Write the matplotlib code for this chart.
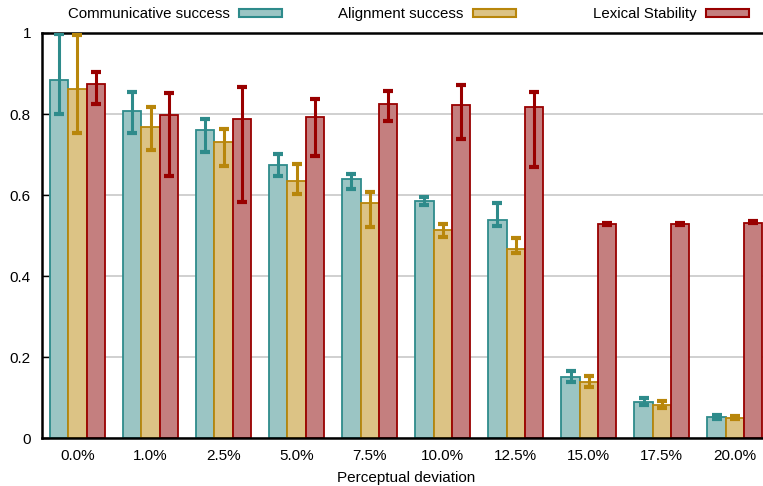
import matplotlib
matplotlib.use("Agg")
import matplotlib.pyplot as plt
import numpy as np
from matplotlib.patches import Patch

plt.rcParams['font.family'] = ['Liberation Sans', 'DejaVu Sans']

categories = ["0.0%", "1.0%", "2.5%", "5.0%", "7.5%", "10.0%", "12.5%", "15.0%", "17.5%", "20.0%"]
series_names = ["Communicative success", "Alignment success", "Lexical Stability"]

comm = [0.884, 0.807, 0.760, 0.675, 0.639, 0.586, 0.538, 0.151, 0.089, 0.052]
comm_lo = [0.800, 0.753, 0.707, 0.647, 0.615, 0.575, 0.523, 0.138, 0.081, 0.048]
comm_hi = [0.998, 0.854, 0.788, 0.702, 0.653, 0.595, 0.581, 0.166, 0.099, 0.056]

align = [0.862, 0.768, 0.730, 0.634, 0.580, 0.513, 0.467, 0.138, 0.081, 0.050]
align_lo = [0.753, 0.711, 0.672, 0.602, 0.520, 0.496, 0.458, 0.126, 0.074, 0.046]
align_hi = [0.995, 0.817, 0.762, 0.676, 0.607, 0.528, 0.495, 0.153, 0.092, 0.054]

lex = [0.874, 0.797, 0.788, 0.793, 0.825, 0.822, 0.818, 0.528, 0.528, 0.532]
lex_lo = [0.825, 0.647, 0.583, 0.696, 0.783, 0.738, 0.668, 0.526, 0.526, 0.530]
lex_hi = [0.904, 0.851, 0.867, 0.836, 0.857, 0.871, 0.855, 0.531, 0.531, 0.535]

yticks = [0, 0.2, 0.4, 0.6, 0.8, 1]
ytick_labels = ["0", "0.2", "0.4", "0.6", "0.8", "1"]

fills = ["#9bc5c4", "#dcc385", "#c47f7f"]
edges = ["#2e8b8b", "#b8860b", "#990000"]

fig = plt.figure(figsize=(7.63, 4.86), dpi=100)
ax = fig.add_axes([42/763, 1-438/486, 1-42/763 + 0.01, (438-33)/486])

x = np.arange(len(categories))
w = 0.25
data = [(comm, comm_lo, comm_hi), (align, align_lo, align_hi), (lex, lex_lo, lex_hi)]
for i, (vals, lo, hi) in enumerate(data):
    xs = x + (i - 1) * w
    vals = np.array(vals); lo = np.array(lo); hi = np.array(hi)
    ax.bar(xs, vals, width=w, color=fills[i], edgecolor=edges[i], linewidth=1.3, zorder=2)
    ax.errorbar(xs, vals, yerr=[vals - lo, hi - vals], fmt='none', ecolor=edges[i],
                elinewidth=2.2, capsize=3.5, capthick=3, zorder=3)

ax.set_xlim(-0.486, 9.39 + 0.1)
ax.set_ylim(0, 1)
ax.set_yticks(yticks)
ax.set_yticklabels(ytick_labels)
ax.set_xticks(x)
ax.set_xticklabels(categories)
ax.tick_params(axis='y', direction='in', length=5, width=1, pad=8, labelsize=11)
ax.tick_params(axis='x', length=0, pad=8, labelsize=11)
ax.set_xlabel("Perceptual deviation", fontsize=11, labelpad=6)
ax.yaxis.grid(True, color="#c8c8c8", linewidth=1.2)
ax.set_axisbelow(True)
for s in ['top', 'bottom', 'left']:
    ax.spines[s].set_linewidth(1.8)
ax.spines['right'].set_visible(False)

legend_ends = [282, 516, 749]
for i, name in enumerate(series_names):
    h = Patch(facecolor=fills[i], edgecolor=edges[i], linewidth=1.5)
    fig.legend([h], [name], loc='center right', bbox_to_anchor=(legend_ends[i]/763, 1-14/486),
               frameon=False, markerfirst=False, handlelength=2.9, handleheight=0.45,
               handletextpad=0.6, borderpad=0, borderaxespad=0, fontsize=10.8)

fig.savefig("out.png", dpi=100)
